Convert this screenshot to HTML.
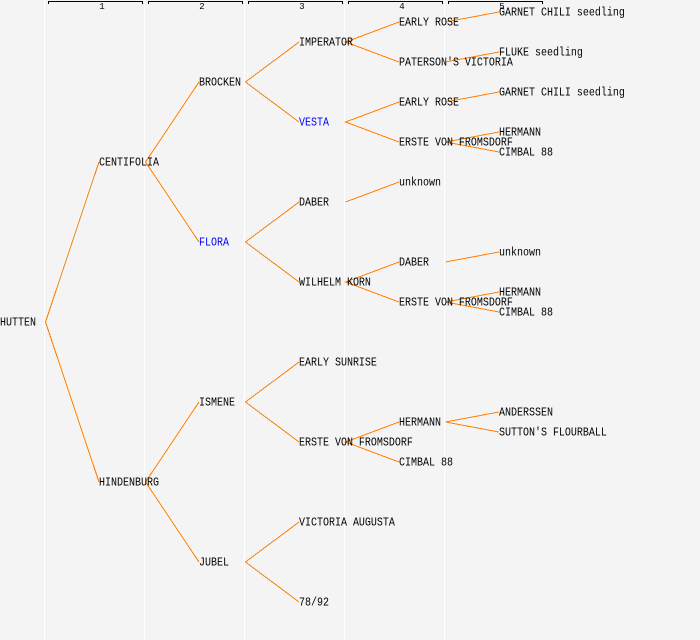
<!DOCTYPE html>
<html>
<head>
<meta charset="utf-8">
<style>
html,body{margin:0;padding:0;background:#f4f4f4;}
svg{display:block;}
text{font-family:"Liberation Mono",monospace;font-size:12px;fill:#000;}
.n{font-size:9px;text-anchor:middle;}
.b{fill:#0000ff;}
</style>
</head>
<body>
<svg width="700" height="640" viewBox="0 0 700 640" xmlns="http://www.w3.org/2000/svg">
<rect width="700" height="640" fill="#f4f4f4"/>
<g stroke="#ffffff" stroke-width="1" shape-rendering="crispEdges">
<line x1="44.5" y1="0" x2="44.5" y2="640"/>
<line x1="144.5" y1="0" x2="144.5" y2="640"/>
<line x1="244.5" y1="0" x2="244.5" y2="640"/>
<line x1="344.5" y1="0" x2="344.5" y2="640"/>
<line x1="444.5" y1="0" x2="444.5" y2="640"/>
</g>
<g fill="none" stroke="#000" stroke-width="1" shape-rendering="crispEdges">
<path d="M48.5 4V1.5H142.5V4"/>
<path d="M148.5 4V1.5H242.5V4"/>
<path d="M248.5 4V1.5H342.5V4"/>
<path d="M348.5 4V1.5H442.5V4"/>
<path d="M448.5 4V1.5H542.5V4"/>
</g>
<text class="n" x="102" y="9">1</text>
<text class="n" x="202" y="9">2</text>
<text class="n" x="302" y="9">3</text>
<text class="n" x="402" y="9">4</text>
<text class="n" x="502" y="9">5</text>
<g fill="none" stroke="#ff8000" stroke-width="1" shape-rendering="crispEdges">
<path d="M99 162L45.5 322L99 482"/>
<path d="M199 82L145.5 162L199 242"/>
<path d="M199 402L145.5 482L199 562"/>
<path d="M299 42L245.5 82L299 122"/>
<path d="M299 202L245.5 242L299 282"/>
<path d="M299 362L245.5 402L299 442"/>
<path d="M299 522L245.5 562L299 602"/>
<path d="M399 22L345.5 42L399 62"/>
<path d="M399 102L345.5 122L399 142"/>
<path d="M399 182L345.5 202"/>
<path d="M399 262L345.5 282L399 302"/>
<path d="M399 422L345.5 442L399 462"/>
<path d="M499 12L445.5 22"/>
<path d="M499 52L445.5 62"/>
<path d="M499 92L445.5 102"/>
<path d="M499 132L445.5 142L499 152"/>
<path d="M499 252L445.5 262"/>
<path d="M499 292L445.5 302L499 312"/>
<path d="M499 412L445.5 422L499 432"/>
</g>
<g transform="translate(0 -0.5)">
<text transform="translate(0 326) scale(.8333 1)">HUTTEN</text>
<text transform="translate(99 166) scale(.8333 1)">CENTIFOLIA</text>
<text transform="translate(99 486) scale(.8333 1)">HINDENBURG</text>
<text transform="translate(199 86) scale(.8333 1)">BROCKEN</text>
<text class="b" transform="translate(199 246) scale(.8333 1)">FLORA</text>
<text transform="translate(199 406) scale(.8333 1)">ISMENE</text>
<text transform="translate(199 566) scale(.8333 1)">JUBEL</text>
<text transform="translate(299 46) scale(.8333 1)">IMPERATOR</text>
<text class="b" transform="translate(299 126) scale(.8333 1)">VESTA</text>
<text transform="translate(299 206) scale(.8333 1)">DABER</text>
<text transform="translate(299 286) scale(.8333 1)">WILHELM KORN</text>
<text transform="translate(299 366) scale(.8333 1)">EARLY SUNRISE</text>
<text transform="translate(299 446) scale(.8333 1)">ERSTE VON FROMSDORF</text>
<text transform="translate(299 526) scale(.8333 1)">VICTORIA AUGUSTA</text>
<text transform="translate(299 606) scale(.8333 1)">78/92</text>
<text transform="translate(399 26) scale(.8333 1)">EARLY ROSE</text>
<text transform="translate(399 66) scale(.8333 1)">PATERSON'S VICTORIA</text>
<text transform="translate(399 106) scale(.8333 1)">EARLY ROSE</text>
<text transform="translate(399 146) scale(.8333 1)">ERSTE VON FROMSDORF</text>
<text transform="translate(399 186) scale(.8333 1)">unknown</text>
<text transform="translate(399 266) scale(.8333 1)">DABER</text>
<text transform="translate(399 306) scale(.8333 1)">ERSTE VON FROMSDORF</text>
<text transform="translate(399 426) scale(.8333 1)">HERMANN</text>
<text transform="translate(399 466) scale(.8333 1)">CIMBAL 88</text>
<text transform="translate(499 16) scale(.8333 1)">GARNET CHILI seedling</text>
<text transform="translate(499 56) scale(.8333 1)">FLUKE seedling</text>
<text transform="translate(499 96) scale(.8333 1)">GARNET CHILI seedling</text>
<text transform="translate(499 136) scale(.8333 1)">HERMANN</text>
<text transform="translate(499 156) scale(.8333 1)">CIMBAL 88</text>
<text transform="translate(499 256) scale(.8333 1)">unknown</text>
<text transform="translate(499 296) scale(.8333 1)">HERMANN</text>
<text transform="translate(499 316) scale(.8333 1)">CIMBAL 88</text>
<text transform="translate(499 416) scale(.8333 1)">ANDERSSEN</text>
<text transform="translate(499 436) scale(.8333 1)">SUTTON'S FLOURBALL</text>
</g>
</svg>
</body>
</html>
